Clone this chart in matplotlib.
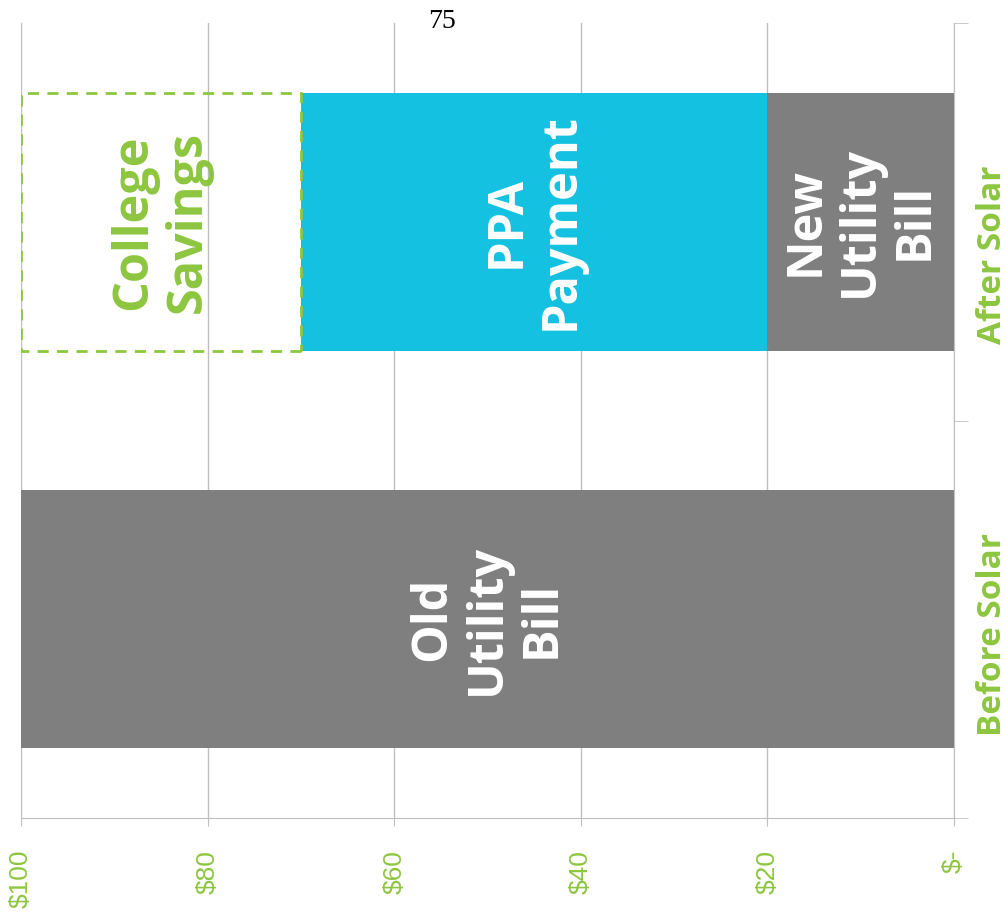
import numpy as np
import matplotlib.pyplot as plt

# data
categories = ['Before Solar', 'After Solar']
old_bill = [100, 0]
new_bill = [0, 20]
ppa_payment = [0, 50]
college_savings = [0, 30]
xticks = [100, 80, 60, 40, 20, 0]

grey = '#7f7f7f'
cyan = '#15c1e0'
green = '#8dc63f'

fig = plt.figure(figsize=(10.05, 9.19), dpi=100)
ax = fig.add_axes([0.0209, 0.1099, 0.9284, 0.865])

y = np.arange(len(categories))
h = 0.65

ax.barh(y[0], old_bill[0], height=h, color=grey, zorder=2)
ax.barh(y[1], new_bill[1], height=h, color=grey, zorder=2)
ax.barh(y[1], ppa_payment[1], left=new_bill[1], height=h, color=cyan, zorder=2)
ax.barh(y[1], college_savings[1], left=new_bill[1] + ppa_payment[1], height=h,
        fill=False, edgecolor=green, linestyle=(0, (4, 3)), linewidth=2, zorder=3)

# labels inside the bars
bold = dict(family=['Open Sans', 'DejaVu Sans'], weight='bold', fontsize=35,
            rotation=90, ha='center', va='center', linespacing=1.15)
ax.text(old_bill[0] / 2, y[0], 'Old\nUtility\nBill', color='white', **bold)
ax.text(new_bill[1] / 2, y[1], 'New\nUtility\nBill', color='white', **bold)
ax.text(new_bill[1] + ppa_payment[1] / 2, y[1], 'PPA\nPayment', color='white', **bold)
ax.text(new_bill[1] + ppa_payment[1] + college_savings[1] / 2, y[1], 'College\nSavings',
        color=green, **bold)

ax.set_xlim(100, 0)
ax.set_ylim(-0.5, 1.5)
ax.set_xticks(xticks)
ax.set_xticklabels(['$' + str(v) if v else '$-' for v in xticks],
                   rotation=90, va='top', ha='center', color=green,
                   fontsize=19, family='Liberation Sans')
ax.tick_params(axis='x', length=6, color='#bfbfbf', pad=17)
ax.grid(axis='x', color='#bfbfbf', linewidth=1, zorder=0)

# category names on the right, nudged down a little like the original
ax.yaxis.tick_right()
ax.set_yticks(y)
ax.set_yticklabels([])
ax.set_yticks([-0.5, 0.5, 1.5], minor=True)
ax.tick_params(axis='y', which='major', length=0)
ax.tick_params(axis='y', which='minor', length=10, color='#bfbfbf')
nudge = [-11, -24]
for i, name in enumerate(categories):
    ax.annotate(name, xy=(0, y[i]), xytext=(16, nudge[i]), textcoords='offset points',
                rotation=90, ha='left', va='center', color=green, fontsize=24,
                fontweight='bold', family=['Open Sans', 'DejaVu Sans'],
                annotation_clip=False)

for s in ['top', 'left']:
    ax.spines[s].set_visible(False)
for s in ['right', 'bottom']:
    ax.spines[s].set_color('#bfbfbf')

fig.text(442 / 1005, 1 - 21 / 919, '75', family='Liberation Serif', fontsize=20,
         ha='center', va='center')

fig.savefig('out.png', dpi=100)
